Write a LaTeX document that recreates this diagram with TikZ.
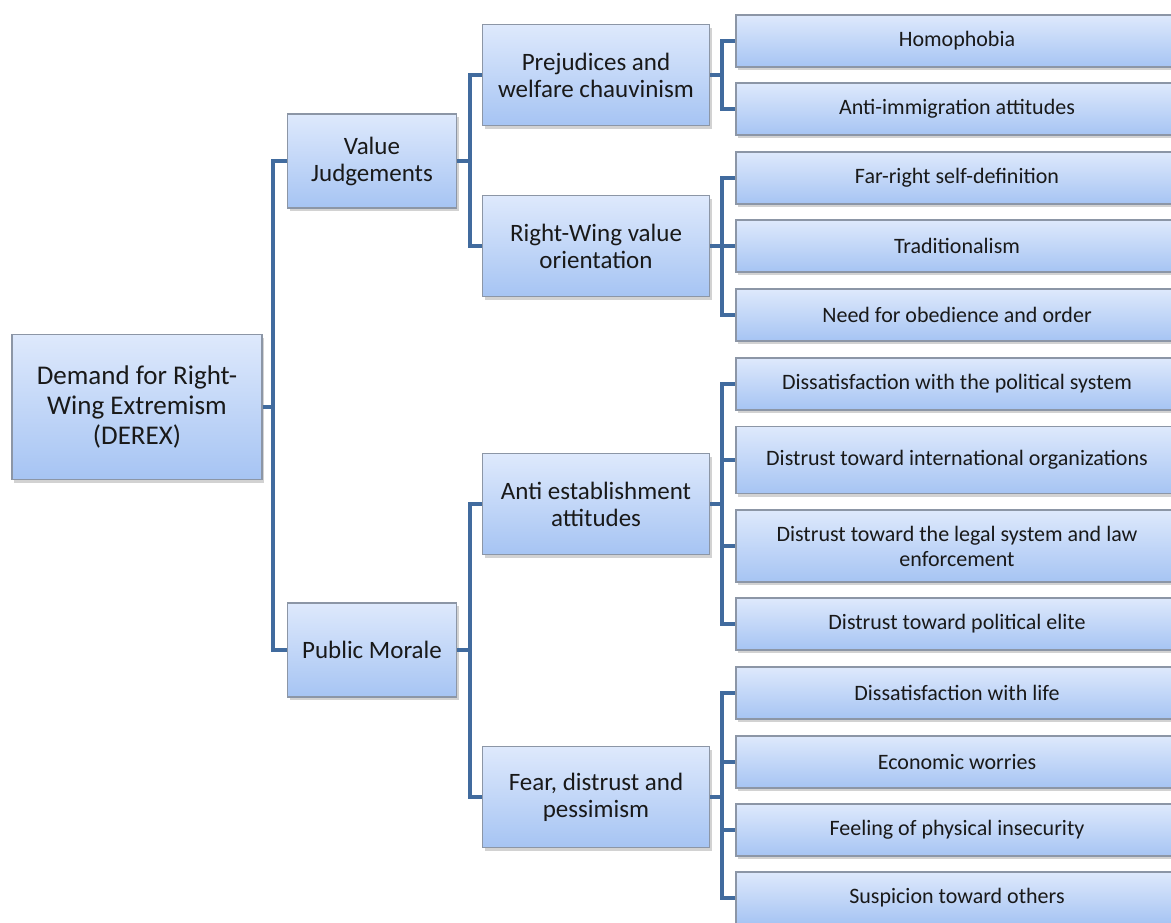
\documentclass[tikz,border=0pt]{standalone}
\usepackage{fontspec}
\setmainfont{Carlito}
\usepackage{tikz}
\usetikzlibrary{shadows}

\definecolor{boxtop}{RGB}{222,233,252}
\definecolor{boxbot}{RGB}{166,196,243}
\definecolor{boxline}{RGB}{140,150,166}
\definecolor{linkblue}{RGB}{65,107,158}
\definecolor{inkdark}{RGB}{25,25,25}

\begin{document}
\begin{tikzpicture}[x=1pt, y=-1pt,
    box/.style={draw=boxline, line width=1.2pt, top color=boxtop, bottom color=boxbot,
        drop shadow={shadow xshift=2pt, shadow yshift=-3pt, opacity=0.35},
        align=center, inner sep=2pt, text=inkdark},
    rootbox/.style={box, minimum width=250pt, minimum height=145pt, font=\fontsize{27}{30}\selectfont},
    midbox/.style={box, minimum width=169pt, minimum height=94pt, font=\fontsize{25}{27}\selectfont},
    subbox/.style={box, minimum width=227pt, minimum height=101pt, font=\fontsize{25}{27}\selectfont},
    leafbox/.style={box, minimum width=442pt, minimum height=52pt, font=\fontsize{22}{25}\selectfont},
    link/.style={draw=linkblue, line width=4pt}]
  \useasboundingbox[fill=white] (0,0) rectangle (1171,922);

  % root and first level
  \node[rootbox] (derex) at (137,407) {Demand for Right-\\Wing Extremism\\(DEREX)};
  \node[midbox] (vj) at (372,161) {Value\\Judgements};
  \node[midbox] (pm) at (372,650) {Public Morale};

  % second level
  \node[subbox] (prej) at (596,75) {Prejudices and\\welfare chauvinism};
  \node[subbox] (rwvo) at (596,246) {Right-Wing value\\orientation};
  \node[subbox] (anti) at (596,504) {Anti establishment\\attitudes};
  \node[subbox] (fear) at (596,797) {Fear, distrust and\\pessimism};

  % leaves
  \node[leafbox] (homo) at (957,41) {Homophobia};
  \node[leafbox] (immig) at (957,109) {Anti-immigration attitudes};
  \node[leafbox] (farright) at (957,178) {Far-right self-definition};
  \node[leafbox] (trad) at (957,246) {Traditionalism};
  \node[leafbox] (obed) at (957,315) {Need for obedience and order};
  \node[leafbox] (dispol) at (957,384) {Dissatisfaction with the political system};
  \node[leafbox, minimum height=67pt] (intl) at (957,460) {Distrust toward international organizations};
  \node[leafbox, minimum height=72pt] (legal) at (957,546) {Distrust toward the legal system and law\\enforcement};
  \node[leafbox] (elite) at (957,624) {Distrust toward political elite};
  \node[leafbox] (dislife) at (957,693) {Dissatisfaction with life};
  \node[leafbox] (econ) at (957,762) {Economic worries};
  \node[leafbox] (phys) at (957,830) {Feeling of physical insecurity};
  \node[leafbox] (susp) at (957,898) {Suspicion toward others};

  % connectors
  \foreach \c in {vj,pm}
    \draw[link] (derex.east) -- ++(10,0) |- (\c.west);
  \foreach \c in {prej,rwvo}
    \draw[link] (vj.east) -- ++(13,0) |- (\c.west);
  \foreach \c in {anti,fear}
    \draw[link] (pm.east) -- ++(13,0) |- (\c.west);
  \foreach \c in {homo,immig}
    \draw[link] (prej.east) -- ++(12,0) |- (\c.west);
  \foreach \c in {farright,trad,obed}
    \draw[link] (rwvo.east) -- ++(12,0) |- (\c.west);
  \foreach \c in {dispol,intl,legal,elite}
    \draw[link] (anti.east) -- ++(12,0) |- (\c.west);
  \foreach \c in {dislife,econ,phys,susp}
    \draw[link] (fear.east) -- ++(12,0) |- (\c.west);
\end{tikzpicture}
\end{document}
